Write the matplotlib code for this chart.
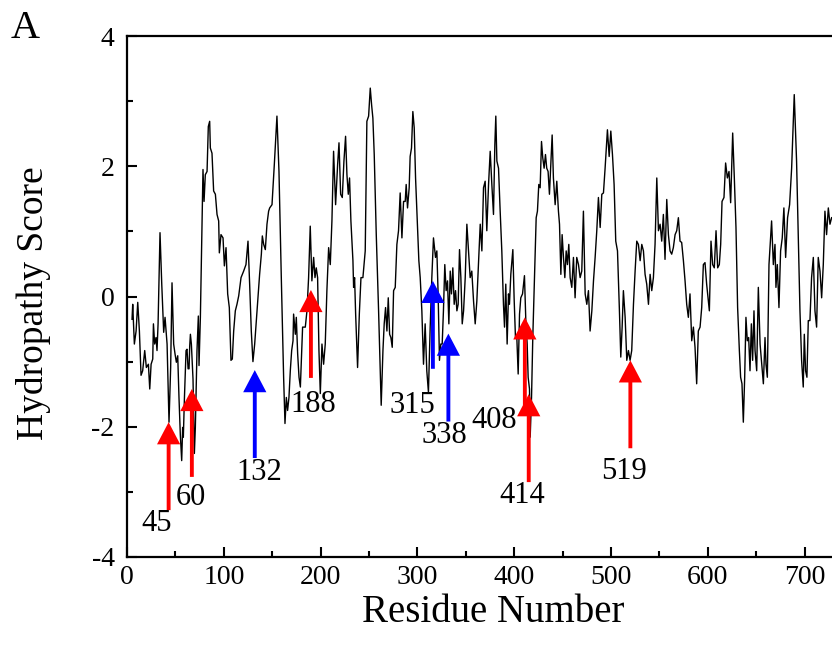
import matplotlib
matplotlib.use("Agg")
import matplotlib.pyplot as plt
from matplotlib.ticker import MultipleLocator

plt.rcParams['font.family'] = ['Liberation Serif', 'DejaVu Serif']
plt.rcParams['axes.unicode_minus'] = False

# ---- hydropathy profile ----
residue = [
    5.2, 5.9, 7.6, 9.4, 11.1, 12.8, 14.5, 16.2, 18.3, 20.0, 22.1, 23.5, 24.9, 26.6, 27.3, 28.6, 30.0, 31.0, 32.1,
    34.1, 35.9, 37.9, 39.3, 41.4, 43.4, 45.1, 46.5, 48.2, 49.6, 51.0, 52.4, 53.7, 55.1, 56.5, 57.5, 58.2, 59.3,
    61.0, 62.0, 63.1, 64.1, 64.8, 65.5, 66.5, 68.2, 69.6, 70.6, 72.3, 73.7, 74.4, 75.8, 78.5, 79.6, 80.9, 82.7,
    84.0, 85.4, 86.1, 87.8,
    89.5, 91.3, 93.0, 94.7, 95.4, 97.1, 99.2, 100.6, 102.3, 104.0, 105.7, 107.4, 108.8, 110.2, 111.9, 113.6,
    115.4, 117.8, 120.5, 122.9, 125.0, 126.7, 128.4, 130.1, 131.9, 134.3, 137.0, 138.8, 139.8, 141.2, 142.9,
    144.6, 146.3, 147.4, 149.8, 152.2, 154.9, 157.0, 159.4, 161.8, 163.2, 164.6, 165.9, 167.3, 168.7, 170.1,
    171.5, 172.1, 173.9, 174.9, 176.3, 177.7, 179.1, 180.1, 181.4,
    184.2, 185.9, 187.6, 189.3, 191.0, 192.8, 194.2, 195.5, 196.9, 198.3, 199.7, 201.4, 203.1, 204.8, 206.5,
    208.3, 210.0, 211.7, 213.4, 215.5, 217.6, 219.0, 220.7, 222.4, 224.1, 225.8, 227.2, 228.6, 229.9, 231.3,
    233.4, 234.1, 235.1, 236.2, 238.2, 240.0, 241.7, 243.7, 246.1, 247.8, 249.6, 251.3, 252.7, 254.0, 255.4,
    257.5, 259.9, 262.6, 264.4, 265.7, 267.1, 268.5, 269.9, 271.3, 272.6, 274.0, 275.4,
    277.1, 278.8, 280.5, 282.2, 284.0, 285.7, 287.4, 288.4, 289.8, 291.5, 292.5, 293.9, 295.3, 296.7, 298.1,
    300.1, 301.5, 302.9, 304.6, 306.3, 308.0, 309.7, 311.4, 313.2, 314.9, 316.6, 318.7, 320.1, 321.4, 322.8,
    324.2, 325.6, 326.9, 328.3, 329.7, 331.1, 332.5, 333.9, 335.2, 336.6, 338.0, 339.4, 340.8, 342.1, 343.5,
    344.9, 346.3, 347.7, 349.4, 351.1, 352.8, 354.5, 356.2, 358.0, 359.7, 361.4,
    364.9, 366.6, 368.3, 370.0, 371.7, 373.5, 375.2, 376.9, 378.6, 380.0, 381.0, 382.1, 383.8, 385.5, 387.2,
    388.9, 390.0, 391.3, 392.7, 394.1, 395.1, 396.5, 398.6, 399.9, 401.3, 402.7, 404.1, 405.5, 406.8, 408.6,
    410.6, 412.0, 413.4, 414.4, 415.8, 416.5, 417.9, 419.2, 420.9, 422.7, 424.0, 425.4, 426.8, 428.2, 429.5,
    430.9, 432.3, 433.6, 435.0, 436.4, 437.8, 439.2, 440.5, 442.3, 444.0, 445.7, 446.8, 448.2, 449.5, 450.9,
    452.3, 453.7, 455.0, 456.4, 457.8, 459.5, 461.2,
    462.9, 464.6, 466.4, 468.1, 469.8, 471.5, 473.3, 475.0, 476.7, 478.4, 480.2, 481.9, 483.6, 485.3, 487.0,
    488.8, 490.5, 492.2, 493.9, 496.3, 498.1, 499.8, 501.5, 503.2, 504.9, 506.7, 508.7, 510.1, 511.5, 512.8,
    514.6, 516.3, 518.0, 519.7, 521.4, 523.2, 524.9, 526.6, 528.3, 530.1, 531.8, 533.5, 535.2, 536.9, 538.7,
    540.4, 542.1, 543.8, 545.5, 547.3, 549.0, 550.7, 552.4, 554.1,
    555.8, 557.6, 559.3, 561.0, 562.7, 564.4, 566.2, 567.9, 569.6, 571.3, 573.0, 574.8, 576.5, 578.2, 579.9,
    581.6, 583.4, 585.1, 586.8, 588.5, 590.2, 592.0, 593.7, 595.4, 597.1, 598.8, 601.6, 603.3, 605.0, 606.7,
    608.5, 610.2, 611.9, 613.3, 614.7, 616.7, 618.4, 620.2, 621.9, 623.6, 625.7, 627.4, 629.1, 630.8, 632.6,
    633.9, 635.3, 636.7, 638.1, 639.4, 640.8, 642.2, 643.6, 645.0, 646.3, 647.7,
    648.8, 650.5, 652.2, 654.0, 655.7, 657.4, 659.1, 660.1, 661.5, 663.2, 664.6, 665.9, 667.7, 669.4, 670.4,
    671.8, 673.5, 675.2, 676.9, 678.6, 680.4, 682.4, 684.5, 686.6, 689.3, 691.7, 693.5, 695.2, 696.9, 698.6,
    699.7, 701.0, 702.4, 703.8, 705.5, 707.2, 709.0, 710.7, 712.4, 714.1, 715.9, 717.6, 719.3, 721.0, 722.7,
    724.5, 726.2, 727.9,
]
score = [
    -0.35, -0.12, -0.73, -0.53, -0.09, -0.53, -1.21, -1.14, -0.83, -1.09, -1.04, -1.42, -1.04, -0.96, -0.42, -0.73, -0.63, -0.83, -0.42,
    0.98, 0.19, -0.55, -0.32, -0.73, -1.93, -1.09, 0.21, -0.73, -0.88, -1.01, -0.91, -1.55, -2.13, -2.52, -2.01, -2.16, -1.57,
    -0.83, -0.81, -1.11, -1.11, -0.76, -0.58, -0.73, -1.27, -2.41, -2.01, -0.83, -0.30, -1.06, -0.32, 1.95, 1.46, 1.87, 1.92,
    2.61, 2.69, 2.28, 2.20,
    1.62, 1.57, 1.26, 1.16, 0.67, 0.95, 0.90, 0.47, 0.75, 0.04, -0.17, -0.98, -0.96, -0.53, -0.22, -0.12,
    0.01, 0.29, 0.39, 0.49, 0.85, 0.19, -0.53, -1.00, -0.73, -0.22, 0.34, 0.65, 0.93, 0.80, 0.72,
    1.11, 1.31, 1.36, 1.41, 2.03, 2.77, 1.92, 0.29, -1.24, -1.95, -1.55, -1.75, -1.55, -1.14, -0.83,
    -0.68, -0.27, -0.58, -0.32, -0.88, -1.24, -1.39, -0.98, -0.47,
    -0.47, -0.22, 0.29, 1.08, 0.24, 0.60, 0.29, 0.44, 0.29, -0.83, -1.49, -0.73, -1.04, -0.73, 0.09,
    0.75, 0.49, 1.16, 2.23, 1.41, 2.03, 2.36, 1.57, 1.52, 2.08, 2.46, 1.87, 1.57, 1.82, 1.16,
    0.55, 0.14, 0.29, -0.27, -1.09, -0.27, 0.29, 0.29, 0.70, 2.69, 2.77, 3.20, 2.94, 2.74, 2.18,
    0.95, -0.22, -1.67, -0.83, -0.42, -0.17, -0.53, -0.02, -0.58, -0.63, -0.78, 0.09,
    0.14, 0.80, 1.01, 1.59, 0.90, 1.46, 1.46, 1.72, 1.36, 1.67, 2.15, 2.28, 2.84, 2.59, 1.82,
    1.06, 0.55, 0.29, -0.22, -1.04, -0.42, -1.14, -1.47, -0.47, 0.29, 0.90, 0.60, 0.70, 0.04, -0.98,
    -0.73, -0.73, -0.22, 0.49, 0.09, 0.24, -0.42, 0.39, 0.04, 0.44, -0.12, 0.09, -0.22, -0.12, 0.72,
    0.29, -0.42, -0.22, 0.29, 1.11, 0.70, 0.29, 0.39, -0.07, -0.42, -0.07,
    1.11, 0.70, 1.67, 1.77, 1.01, 1.72, 2.23, 1.72, 1.26, 2.33, 2.77, 2.08, 1.97, 1.31, 0.70,
    -0.12, -0.47, 0.19, -0.73, 0.04, -0.12, 0.34, 0.72, -0.02, -0.63, -0.63, -1.19, -0.27, -0.02, 0.04,
    0.32, -0.37, -0.73, -1.24, -1.42, -2.16, -1.55, -0.63, 0.29, 1.21, 1.31, 1.72, 1.67, 2.38, 2.13,
    1.97, 2.18, 1.97, 1.92, 1.57, 2.03, 2.48, 1.82, 1.41, 1.77, 1.31, 1.11, 0.34, 0.95, 0.60,
    0.29, 0.70, 0.49, 0.80, 0.29, 0.14, 0.60,
    -0.02, 0.60, 0.49, 0.29, 0.39, 1.31, 0.04, -0.12, 0.09, -0.53, -0.22, 0.24, 0.60, 1.01, 1.52,
    1.06, 1.57, 1.59, 1.97, 2.56, 2.15, 2.54, 2.18, 1.72, 0.85, 0.70, -0.22, -0.93, -0.47, 0.09,
    -0.32, -0.98, -0.83, -0.98, -0.83, -0.12, 0.39, 0.85, 0.80, 0.55, 0.80, 0.70, 0.34, 0.19, -0.12,
    0.34, 0.09, 0.29, 0.80, 1.82, 1.01, 1.11, 0.85, 1.26,
    0.57, 1.49, 0.95, 0.70, 0.65, 0.75, 0.95, 1.01, 1.21, 0.85, 0.83, 0.55, 0.24, -0.12, -0.32,
    0.04, -0.68, -0.47, -0.78, -1.34, -0.53, -0.47, -0.17, 0.49, 0.52, 0.19, -0.22, 0.85, 0.49, 0.44,
    1.01, 0.44, 0.49, 0.80, 1.46, 1.52, 2.05, 1.82, 1.92, 1.44, 2.51, 1.82, 1.06, -0.17, -0.83,
    -1.24, -1.34, -1.93, -1.24, -0.32, -0.68, -0.63, -1.14, -0.42, -0.98, -0.22,
    -0.83, -1.14, 0.14, -0.73, -1.04, -1.34, -0.63, -1.04, -1.24, 0.49, 0.85, 1.16, 0.49, 0.80, 0.14,
    0.49, -0.17, 0.70, 0.90, 1.36, 0.60, 1.21, 1.41, 1.97, 3.10, 2.08, 0.90, -0.22, -0.98, -1.39,
    -0.58, -1.14, -1.24, -0.37, -0.37, 0.29, 0.60, -0.22, -0.47, 0.60, 0.39, -0.02, 0.49, 1.31, 0.95,
    1.36, 1.11, 1.21,
]

# ---- marked sites ----
site_labels = ["45", "60", "132", "188", "315", "338", "408", "414", "519"]
arrow_x = [43, 67, 132, 190, 316, 332, 411, 415, 520]
arrow_tip = [-1.93, -1.42, -1.13, 0.10, 0.24, -0.57, -0.32, -1.50, -0.98]
arrow_colors = ["red", "red", "blue", "red", "blue", "blue", "red", "red", "red"]
label_x = [31, 66, 137, 192, 295, 328, 379, 408, 513]
label_y = [-3.49, -3.08, -2.71, -1.66, -1.67, -2.13, -1.90, -3.05, -2.68]

fig = plt.figure(figsize=(8.32, 6.55), dpi=100)
ax = fig.add_axes([127 / 832, 1 - 557 / 655, 705 / 832, 521 / 655])

ax.plot(residue, score, color="black", lw=1.0)

shaft_len = 1.35
for x, tip, c in zip(arrow_x, arrow_tip, arrow_colors):
    ax.arrow(x, tip - shaft_len, 0, shaft_len, width=4.0, head_width=24,
             head_length=0.34, length_includes_head=True, color=c, lw=0,
             zorder=3)
for t, lx, ly in zip(site_labels, label_x, label_y):
    ax.text(lx, ly, t, ha="center", va="center", fontsize=22, zorder=4)

ax.set_xlim(0, 728.3)
ax.set_ylim(-4, 4)
ax.xaxis.set_major_locator(MultipleLocator(100))
ax.xaxis.set_minor_locator(MultipleLocator(50))
ax.yaxis.set_major_locator(MultipleLocator(2))
ax.yaxis.set_minor_locator(MultipleLocator(1))
ax.tick_params(which="both", direction="in", top=False, right=False,
               width=1.5, labelsize=20)
ax.tick_params(which="major", length=7)
ax.tick_params(which="minor", length=4.5)
ax.tick_params(axis="x", pad=6)
ax.tick_params(axis="y", pad=9)
ax.spines["right"].set_visible(False)
for s in ["left", "bottom", "top"]:
    ax.spines[s].set_linewidth(1.6)

ax.set_xlabel("Residue Number", fontsize=28)
ax.xaxis.set_label_coords((493 - 127) / 705, (557 - 612) / 521)
ax.xaxis.label.set_va("center")
ax.set_ylabel("Hydropathy Score", fontsize=27)
ax.yaxis.set_label_coords((33 - 127) / 705, (557 - 303) / 521)
ax.yaxis.label.set_va("center")

fig.text(25 / 832, 1 - 28 / 655, "A", fontsize=29, ha="center", va="center")

fig.savefig("out.png", dpi=100)
